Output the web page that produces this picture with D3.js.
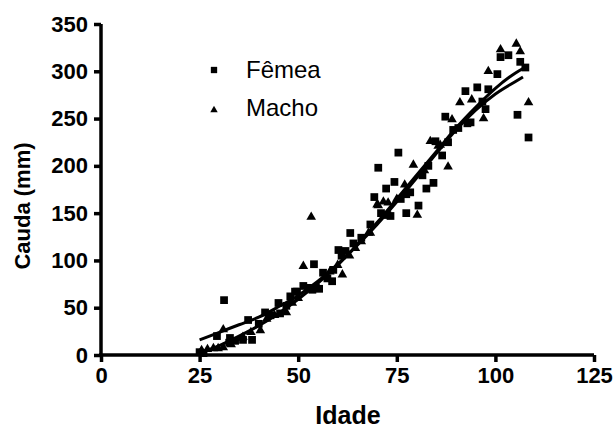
<!DOCTYPE html>
<html>
<head>
<meta charset="utf-8">
<script src="https://cdn.jsdelivr.net/npm/d3@7"></script>
<style>
  body { margin: 0; background: #fff; }
  text { font-family: "Liberation Sans", Arial, sans-serif; }
</style>
</head>
<body>
<div id="chart"></div>
<script>
// data: [idade, cauda]
var femea = [[25,3],[26,2],[29.4,20],[31.2,58],[32.5,13],[32.7,18],[34,15],[36,16],[37.3,37],[38.3,16],
  [40,33],[41.6,45],[43,42],[45,55],[45.4,44],[47,52],[48,62],[49.2,67],[49.7,67],[51.3,73],[52.5,71],
  [53.6,69],[54,96],[55.3,70],[56.3,87],[57.4,81],[58.6,78],[58.9,90],[60.2,111],[61,105],[62,110],
  [63.2,129],[64,118],[66,124],[68.3,138],[69.3,167],[70.3,198],[71,150],[72.3,176],[72.6,148],
  [73.4,147],[74.4,183],[75.4,214],[76,165],[77.4,150],[77.4,170],[78.4,172],[80.5,158],[81.5,190],
  [82.5,176],[83,200],[84.3,182],[84.8,226],[86.5,211],[87.3,252],[88,225],[89.3,238],[90.6,240],
  [92.4,279],[92.9,245],[93.7,246],[95.4,283],[96.7,268],[97.5,260],[98.2,281],[100.5,297],
  [101.3,315],[103.3,317],[105.6,254],[106.3,310],[107.6,304],[108.4,230]];

var macho = [[25.5,5],[27,6],[28.5,7],[29.7,7],[31,8],[31,27],[33,11],[35.8,18],[36,19],[38,24],
  [40.4,26],[42,38],[44,42],[47,45],[48.5,55],[50,60],[51.3,94],[53.3,146],[55,72],[58,88],[60,95],
  [61.2,85],[63,105],[64.5,113],[66,120],[67.8,129],[68.3,129],[70,159],[70.3,158],[71.6,162],
  [72.8,161],[75,165],[77,180],[79.2,201],[80.2,148],[82,195],[83.5,226],[85.5,221],[86,222],
  [88,199],[89,249],[91,267],[94,270],[97,250],[98.2,300],[101.3,323],[105.3,329],[106.3,321],
  [108.4,267]];

// fitted curves, read at a few ages
var fitA = [[25,16],[30,24],[35,32],[40,40],[45,51],[50,63],[55,78],[60,96],[65,116],[70,138],
  [75,162],[80,187],[85,213],[90,238],[95,259],[100,276],[105,289],[107,294]];
var fitB = [[25,2],[30,10],[35,20],[40,31],[45,44],[50,59],[55,76],[60,95],[65,117],[70,140],
  [75,165],[80,190],[85,215],[90,240],[95,262],[100,282],[105,298],[107,303]];

var xTicks = [0, 25, 50, 75, 100, 125];
var yTicks = [0, 50, 100, 150, 200, 250, 300, 350];
var legendItems = ["Fêmea", "Macho"];

var width = 616, height = 430;

var svg = d3.select("#chart").append("svg")
  .attr("width", width)
  .attr("height", height);

var x = d3.scaleLinear().domain([0, 125]).range([101, 594]);
var y = d3.scaleLinear().domain([0, 350]).range([355, 24]);

// axes
var xAxis = svg.append("g")
  .attr("transform", "translate(0," + y(0) + ")")
  .call(d3.axisBottom(x).tickValues(xTicks).tickSize(7).tickPadding(5));
var yAxis = svg.append("g")
  .attr("transform", "translate(" + x(0) + ",0)")
  .call(d3.axisLeft(y).tickValues(yTicks).tickSize(7).tickPadding(6));

[xAxis, yAxis].forEach(function(a){
  a.select(".domain").attr("stroke", "#000").attr("stroke-width", 3.5)
  a.selectAll(".tick line").attr("stroke", "#000").attr("stroke-width", 3.5);
  a.selectAll(".tick text")
    .attr("fill", "#000")
    .style("font-size", "22px")
    .style("font-weight", "bold");
});
xAxis.select(".domain").attr("d", "M" + (x(0) - 2) + ",0H" + x(125));
yAxis.select(".domain").attr("d", "M0," + y(350) + "V" + (y(0) + 2));

// fitted curves
var line = d3.line()
  .x(function(d){ return x(d[0]); })
  .y(function(d){ return y(d[1]); })
  .curve(d3.curveMonotoneX);

[fitA, fitB].forEach(function(f){
  svg.append("path")
    .datum(f)
    .attr("d", line)
    .attr("fill", "none")
    .attr("stroke", "#000")
    .attr("stroke-width", 3);
});

// points
var sq = d3.symbol().type(d3.symbolSquare).size(60);
var tri = d3.symbol().type(d3.symbolTriangle).size(40);

svg.append("g").selectAll("path")
  .data(femea)
  .enter().append("path")
  .attr("d", sq)
  .attr("transform", function(d){ return "translate(" + x(d[0]) + "," + y(d[1]) + ")"; })
  .attr("fill", "#000");

svg.append("g").selectAll("path")
  .data(macho)
  .enter().append("path")
  .attr("d", tri)
  .attr("transform", function(d){ return "translate(" + x(d[0]) + "," + y(d[1]) + ")"; })
  .attr("fill", "#000");

// legend
var leg = svg.append("g");
leg.append("path")
  .attr("d", d3.symbol().type(d3.symbolSquare).size(40))
  .attr("transform", "translate(214,70)");
leg.append("path")
  .attr("d", d3.symbol().type(d3.symbolTriangle).size(24))
  .attr("transform", "translate(214,110)");
leg.selectAll("text")
  .data(legendItems)
  .enter().append("text")
  .attr("x", 246)
  .attr("y", function(d, i){ return 78 + i * 38; })
  .style("font-size", "24px")
  .text(function(d){ return d; });

// axis titles
svg.append("text")
  .attr("x", 348)
  .attr("y", 424)
  .attr("text-anchor", "middle")
  .style("font-size", "25px")
  .style("font-weight", "bold")
  .text("Idade");

svg.append("text")
  .attr("transform", "translate(30,206) rotate(-90)")
  .attr("text-anchor", "middle")
  .style("font-size", "22px")
  .style("font-weight", "bold")
  .text("Cauda (mm)");
</script>
</body>
</html>
